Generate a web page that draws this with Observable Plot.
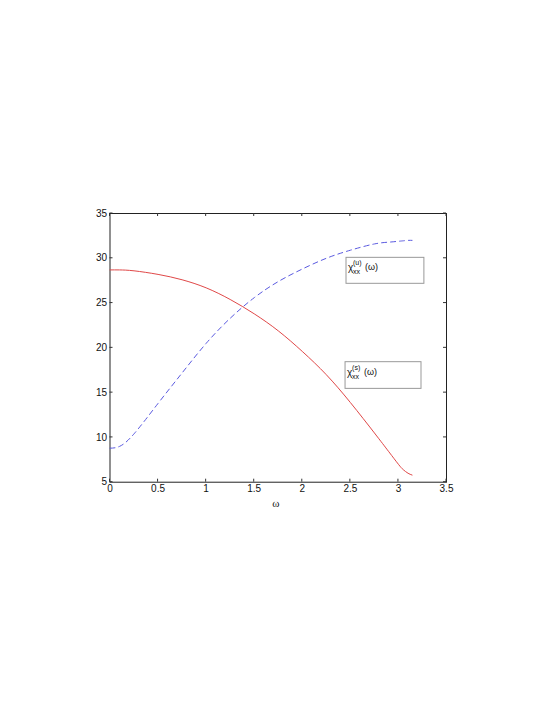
<!DOCTYPE html>
<html><head><meta charset="utf-8">
<script src="https://cdn.jsdelivr.net/npm/d3@7"></script>
<script src="https://cdn.jsdelivr.net/npm/@observablehq/plot@0.6"></script>
<style>body{margin:0;background:#fff;} svg{display:block;}</style>
</head><body>
<script>
// omega sample points
const omega = [0, 0.1, 0.25, 0.5, 0.75, 1.0, 1.25, 1.5, 1.75, 2.0, 2.25, 2.5, 2.75, 2.9, 3.0, 3.05, 3.1, 3.1416];
// chi_xx^(s) (red, solid)
const chiS = [28.7, 28.7, 28.6, 28.2, 27.6, 26.7, 25.4, 23.8, 21.9, 19.6, 17.0, 13.9, 10.5, 8.4, 7.0, 6.4, 6.0, 5.8];
// chi_xx^(u) (blue, dashed)
const chiU = [8.8, 9.0, 10.4, 13.8, 17.2, 20.5, 23.3, 25.6, 27.4, 28.8, 30.0, 30.9, 31.6, 31.8, 31.9, 31.95, 32.0, 32.0];
const xTicks = [0, 0.5, 1, 1.5, 2, 2.5, 3, 3.5];
const yTicks = [5, 10, 15, 20, 25, 30, 35];
// legend boxes (data coordinates) and labels
const legendBoxes = [
  {x1: 2.46, x2: 3.27, y1: 27.15, y2: 30.05, sup: "(u)"},
  {x1: 2.45, x2: 3.24, y1: 15.42, y2: 18.4, sup: "(s)"}
];

const sData = omega.map((w, i) => ({w, v: chiS[i]}));
const uData = omega.map((w, i) => ({w, v: chiU[i]}));

const plot = Plot.plot({
  width: 545, height: 705,
  marginLeft: 109.5, marginRight: 99, marginTop: 213, marginBottom: 223.3,
  style: {fontFamily: "Liberation Sans, Arial, sans-serif", fontSize: "10px", background: "#fff", color: "#111"},
  x: {domain: [0, 3.5], ticks: xTicks, label: null},
  y: {domain: [5, 35], ticks: yTicks, label: null},
  marks: [
    Plot.frame({stroke: "#222", strokeWidth: 1}),
    Plot.axisX(xTicks, {tickSize: 0, tickPadding: 3, tickFormat: d => String(d), fontSize: 10}),
    Plot.axisY(yTicks, {tickSize: 0, tickPadding: 3, fontSize: 10}),
    Plot.line(uData, {x: "w", y: "v", stroke: "#5a5ae0", strokeWidth: 1, strokeDasharray: "5,4", curve: "natural"}),
    Plot.line(sData, {x: "w", y: "v", stroke: "#e04848", strokeWidth: 1, curve: "natural"}),
    Plot.rect(legendBoxes, {x1: "x1", x2: "x2", y1: "y1", y2: "y2", fill: "white", stroke: "#999", strokeWidth: 1})
  ]
});
document.body.appendChild(plot);

const sx = plot.scale("x"), sy = plot.scale("y");
const svg = d3.select(plot);
const x0 = sx.apply(0), x1 = sx.apply(3.5), y0 = sy.apply(5), y1 = sy.apply(35);
const g = svg.append("g").attr("stroke", "#333").attr("stroke-width", 1);
xTicks.forEach(t => {
  const px = sx.apply(t);
  g.append("line").attr("x1", px).attr("x2", px).attr("y1", y0).attr("y2", y0 - 3);
  g.append("line").attr("x1", px).attr("x2", px).attr("y1", y1).attr("y2", y1 + 3);
});
yTicks.forEach(t => {
  const py = sy.apply(t);
  g.append("line").attr("x1", x0).attr("x2", x0 + 3).attr("y1", py).attr("y2", py);
  g.append("line").attr("x1", x1).attr("x2", x1 - 3).attr("y1", py).attr("y2", py);
});
// x axis label
svg.append("text").attr("x", (x0 + x1) / 2 - 2).attr("y", 507)
  .attr("text-anchor", "middle").attr("font-size", 11).attr("fill", "#111")
  .attr("font-family", "Liberation Serif, serif").text("ω");
// legend labels
const lg = svg.append("g").attr("text-anchor", "start").attr("fill", "#111")
  .attr("font-family", "Liberation Sans, Arial, sans-serif");
legendBoxes.forEach(b => {
  const bx = sx.apply(b.x1) + 2, by = sy.apply(b.y2) + 14;
  lg.append("text").attr("x", bx).attr("y", by).attr("font-size", 10).attr("text-anchor", "start").text("χ");
  lg.append("text").attr("x", bx + 5).attr("y", by - 6).attr("font-size", 7).attr("text-anchor", "start").text(b.sup);
  lg.append("text").attr("x", bx + 5).attr("y", by + 3).attr("font-size", 7).attr("text-anchor", "start").text("xx");
  lg.append("text").attr("x", bx + 17).attr("y", by - 1).attr("font-size", 9).attr("text-anchor", "start").text("(ω)");
});
</script>
</body></html>
